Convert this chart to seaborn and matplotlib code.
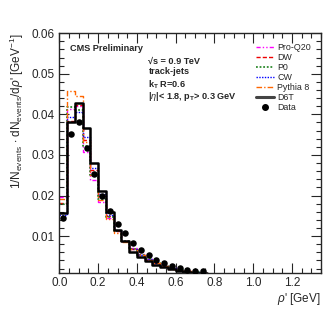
import numpy as np
import pandas as pd
import matplotlib
matplotlib.use("Agg")
import matplotlib.pyplot as plt
from matplotlib.lines import Line2D
from matplotlib.ticker import MultipleLocator
import seaborn as sns

# bin edges of rho' [GeV] (0.04 GeV bins)
edges = [0.00, 0.04, 0.08, 0.12, 0.16, 0.20, 0.24, 0.28, 0.32, 0.36, 0.40,
         0.44, 0.48, 0.52, 0.56, 0.60, 0.64, 0.68, 0.72, 0.76]
centers = [0.02, 0.06, 0.10, 0.14, 0.18, 0.22, 0.26, 0.30, 0.34, 0.38,
           0.42, 0.46, 0.50, 0.54, 0.58, 0.62, 0.66, 0.70, 0.74]

data = [0.0144, 0.0351, 0.0380, 0.0317, 0.0252, 0.0199, 0.0162, 0.0129, 0.0107, 0.0084,
        0.0066, 0.0053, 0.0042, 0.0033, 0.0027, 0.0021, 0.0017, 0.0015, 0.0013]
d6t = [0.0157, 0.0381, 0.0427, 0.0366, 0.0280, 0.0212, 0.0160, 0.0115, 0.0087, 0.0062,
       0.0048, 0.0038, 0.0030, 0.0023, 0.0018, 0.0014, 0.0011, 0.0009, 0.0008]
pythia8 = [0.0191, 0.0457, 0.0444, 0.0332, 0.0250, 0.0188, 0.0142, 0.0108, 0.0086, 0.0068,
           0.0053, 0.0042, 0.0033, 0.0026, 0.0020, 0.0016, 0.0013, 0.0010, 0.0009]
proq20 = [0.0196, 0.0414, 0.0420, 0.0308, 0.0238, 0.0185, 0.0145, 0.0112, 0.0088, 0.0070,
          0.0055, 0.0044, 0.0035, 0.0027, 0.0021, 0.0017, 0.0013, 0.0011, 0.0009]
dw = [0.0182, 0.0383, 0.0422, 0.0338, 0.0262, 0.0198, 0.0150, 0.0113, 0.0088, 0.0068,
      0.0053, 0.0042, 0.0033, 0.0026, 0.0020, 0.0016, 0.0013, 0.0010, 0.0009]
p0 = [0.0180, 0.0418, 0.0410, 0.0322, 0.0250, 0.0192, 0.0148, 0.0113, 0.0088, 0.0069,
      0.0054, 0.0043, 0.0034, 0.0027, 0.0021, 0.0017, 0.0013, 0.0011, 0.0009]
cw = [0.0152, 0.0394, 0.0406, 0.0345, 0.0268, 0.0203, 0.0153, 0.0115, 0.0089, 0.0069,
      0.0054, 0.0043, 0.0034, 0.0027, 0.0021, 0.0017, 0.0014, 0.0011, 0.0009]

models = [
    ("Pro-Q20", proq20, "#ff00ff", (0, (3, 1.5, 1, 1.5, 1, 1.5)), 1.0),
    ("DW", dw, "#ee0000", (0, (3, 1.5)), 1.0),
    ("P0", p0, "#2e8b2e", (0, (1, 1)), 1.3),
    ("CW", cw, "#0000ff", (0, (1, 1)), 1.0),
    ("Pythia 8", pythia8, "#ff6600", (0, (4, 1.5, 1, 1.5)), 1.0),
    ("D6T", d6t, "black", "-", 1.8),
]

sns.set_style("ticks")
plt.rcParams["font.family"] = ["Liberation Sans", "DejaVu Sans"]
plt.rcParams["mathtext.fontset"] = "custom"
plt.rcParams["mathtext.rm"] = "Liberation Sans"
plt.rcParams["mathtext.it"] = "Liberation Sans:italic"
plt.rcParams["mathtext.bf"] = "Liberation Sans:bold"

fig = plt.figure(figsize=(3.32, 3.22), dpi=100)
ax = fig.add_axes([0.179, 0.152, 0.788, 0.745])

handles = []
for name, vals, col, ls, lw in models:
    sns.histplot(x=centers, weights=vals, bins=edges, element="step", fill=False,
                 color=col, linestyle=ls, linewidth=lw, ax=ax)
    handles.append(Line2D([], [], color=col if name != "D6T" else "#444444",
                          linestyle=ls, linewidth=lw if name != "D6T" else 2.2))

df = pd.DataFrame({"x": centers, "y": data})
sns.scatterplot(data=df, x="x", y="y", color="black", s=22, edgecolor="black",
                linewidth=0, ax=ax, zorder=10)
handles.append(Line2D([], [], color="black", marker="o", linestyle="none", markersize=4))
labels = [m[0] for m in models] + ["Data"]

ax.set_xlim(0, 1.35)
ax.set_ylim(0.0009, 0.06)
ax.xaxis.set_minor_locator(MultipleLocator(0.05))
ax.yaxis.set_minor_locator(MultipleLocator(0.002))
ax.set_xticks([0.0, 0.2, 0.4, 0.6, 0.8, 1.0, 1.2])
ax.set_xticklabels(["0.0", "0.2", "0.4", "0.6", "0.8", "1.0", "1.2"])
ax.set_yticks([0.01, 0.02, 0.03, 0.04, 0.05, 0.06])
ax.set_yticklabels(["0.01", "0.02", "0.03", "0.04", "0.05", "0.06"])
ax.tick_params(which="both", direction="in", top=True, right=True, width=0.8, labelsize=8.5)
ax.tick_params(which="major", length=7)
ax.tick_params(which="minor", length=3.5)
ax.tick_params(axis="x", pad=3)
for s in ax.spines.values():
    s.set_linewidth(1.0)

ax.set_xlabel(r"$\rho$' [GeV]", fontsize=8.5, loc="right", labelpad=0)
ax.xaxis.set_label_coords(1.0, -0.075)
ax.set_ylabel(r"1/N$_{\rm events}$ $\cdot$ dN$_{\rm events}$/d$\rho$' [GeV$^{-1}$]",
              fontsize=8.5, loc="top", labelpad=4)

fs = 6.6
ax.text(0.04, 0.955, "CMS Preliminary", transform=ax.transAxes, fontsize=fs,
        fontweight="bold", va="top")
ax.text(0.34, 0.9, "\u221as = 0.9 TeV", transform=ax.transAxes,
        fontsize=fs, fontweight="bold", va="top")
ax.text(0.34, 0.857, "track-jets", transform=ax.transAxes, fontsize=fs,
        fontweight="bold", va="top")
ax.text(0.34, 0.81, r"k$_{\mathbf{T}}$ R=0.6", transform=ax.transAxes, fontsize=fs,
        fontweight="bold", va="top")
ax.text(0.34, 0.762, r"|$\eta$|< 1.8, p$_{\mathbf{T}}$> 0.3 GeV", transform=ax.transAxes,
        fontsize=fs, fontweight="bold", va="top")

leg = ax.legend(handles, labels, loc="upper right", bbox_to_anchor=(0.985, 0.985),
                frameon=False, fontsize=6.4, handlelength=2.0, handletextpad=0.4,
                labelspacing=0.12, borderaxespad=0.3)

fig.savefig("out.png", dpi=100)
